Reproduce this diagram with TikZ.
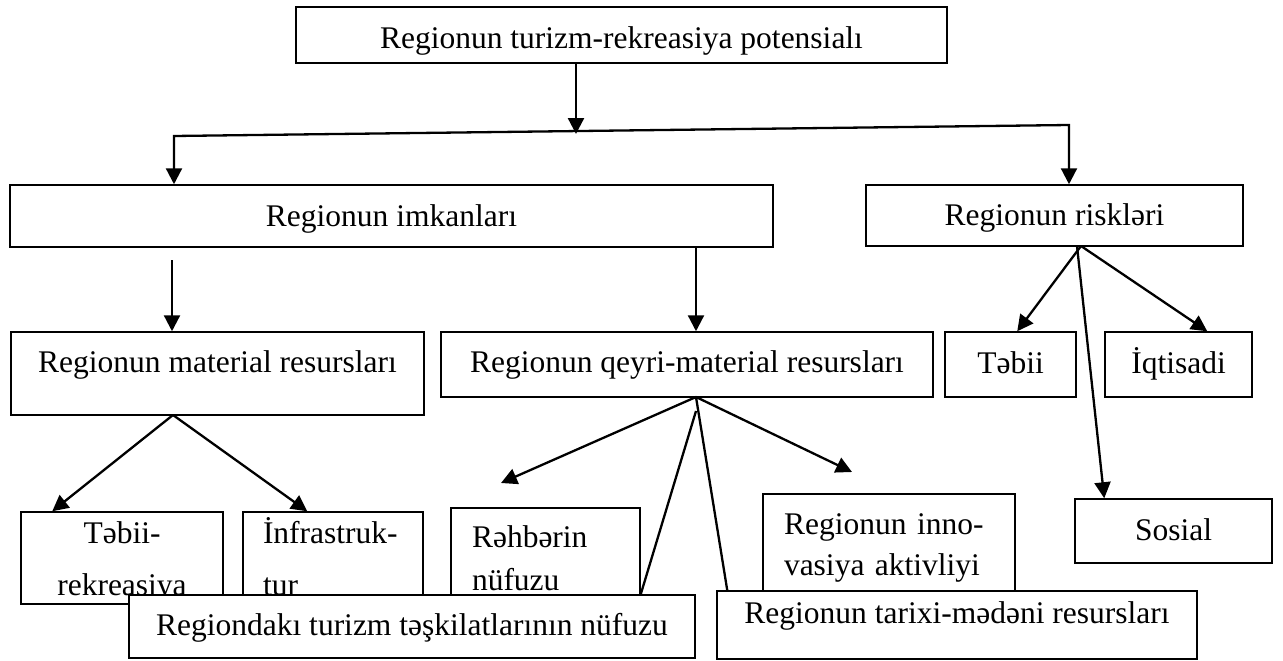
\documentclass[tikz,border=0pt]{standalone}
\usepackage{fontspec}
\setmainfont{Liberation Serif}
\usetikzlibrary{arrows.meta,calc}

\tikzset{
    box/.style={draw, line width=1.5pt, fill=white, inner sep=0pt},
    arr/.style={->, line width=2.3pt},
    link/.style={line width=2.3pt}
}

\begin{document}
\begin{tikzpicture}[x=1pt, y=-1pt, >={Triangle[length=16pt,width=16pt]}, font=\fontsize{31.5}{38}\selectfont]
    \useasboundingbox (0,0) rectangle (1283,661);

    \node (top) [box, minimum width=651pt, minimum height=56pt, text height=35pt, text depth=7pt] at (621.5,35) {Regionun turizm-rekreasiya potensialı};
    \node (imkan) [box, minimum width=763pt, minimum height=62pt, text height=27pt, text depth=7pt] at (391.5,216) {Regionun imkanları};
    \node (risk) [box, minimum width=377pt, minimum height=61pt, text height=26pt, text depth=7pt] at (1054.5,215.5) {Regionun riskləri};

    \node (material) [box, minimum width=413pt, minimum height=83pt, text height=22pt, text depth=25pt] at (217.5,373.5) {Regionun material resursları};
    \node (qeyri) [box, minimum width=492pt, minimum height=65pt, text height=22pt, text depth=7pt] at (687,364.5) {Regionun qeyri-material resursları};
    \node (tebii) [box, minimum width=131pt, minimum height=65pt, text height=24pt, text depth=7pt] at (1010.5,364.5) {Təbii};
    \node (iqtisadi) [box, minimum width=147pt, minimum height=65pt, text height=24pt, text depth=7pt] at (1178.5,364.5) {İqtisadi};

    \node (tebrek) [box, text width=202pt, align=center, minimum height=92pt, text height=22pt, text depth=52pt, font=\fontsize{31.5}{52}\selectfont] at (122,558) {Təbii-\\rekreasiya};
    \node (infra) [box, text width=140pt, inner xsep=20pt, align=left, minimum height=92pt, text height=22pt, text depth=52pt, font=\fontsize{31.5}{52}\selectfont] at (333,558) {İnfrastruk-\\tur};
    \node (rehber) [box, text width=147pt, inner xsep=21pt, align=left, minimum height=96pt, text height=22pt, text depth=40pt, font=\fontsize{31.5}{43}\selectfont] at (545.5,556) {Rəhbərin\\nüfuzu};
    \node (innov) [box, text width=210pt, inner xsep=21pt, align=left, minimum height=106pt, text height=22pt, text depth=48pt, font=\fontsize{31.5}{41}\selectfont] at (889,547) {Regionun inno-\\vasiya aktivliyi};
    \node (sosial) [box, minimum width=197pt, minimum height=64pt, text height=25pt, text depth=7pt] at (1173.5,531) {Sosial};

    \node (teskil) [box, minimum width=566pt, minimum height=63pt, text height=24pt, text depth=7pt] at (412,626.5) {Regiondakı turizm təşkilatlarının nüfuzu};
    \node (tarixi) [box, minimum width=480pt, minimum height=68pt, text height=22pt, text depth=26pt] at (957,625) {Regionun tarixi-mədəni resursları};

    \coordinate (j0) at (576,134);
    \coordinate (jl) at (174,136);
    \coordinate (jr) at (1069,125);
    \coordinate (m0) at (172,260);
    \coordinate (m1) at (173,415);
    \coordinate (q0) at (696,397);
    \coordinate (q1) at (696,411);
    \coordinate (qa) at (501,483);
    \coordinate (qb) at (852,472);
    \coordinate (r0) at (1081,246);
    \coordinate (r1) at (1077,246);

    \draw [arr] (top.south -| j0) -- (j0);
    \draw [arr, <->] (jl |- imkan.north) -- (jl) -- (jr) -- (jr |- risk.north);
    \draw [arr] (m0) -- (m0 |- material.north);
    \draw [arr] (q0 |- imkan.south) -- (q0 |- qeyri.north);

    \draw [arr] (m1) -- ($(tebrek.north west)+(32,0)$);
    \draw [arr] (m1) -- ($(infra.north west)+(65,0)$);

    \draw [arr] (q0) -- (qa);
    \draw [arr] (q0) -- (qb);
    \draw [link] (q1) -- (rehber.east |- teskil.north);
    \draw [link] (q0) -- ($(tarixi.north west)+(11,0)$);

    \draw [arr] (r0) -- ($(tebii.north west)+(73,0)$);
    \draw [arr] (r0) -- ($(iqtisadi.north west)+(103,0)$);
    \draw [arr] (r1) -- ($(sosial.north west)+(30,0)$);
\end{tikzpicture}
\end{document}
